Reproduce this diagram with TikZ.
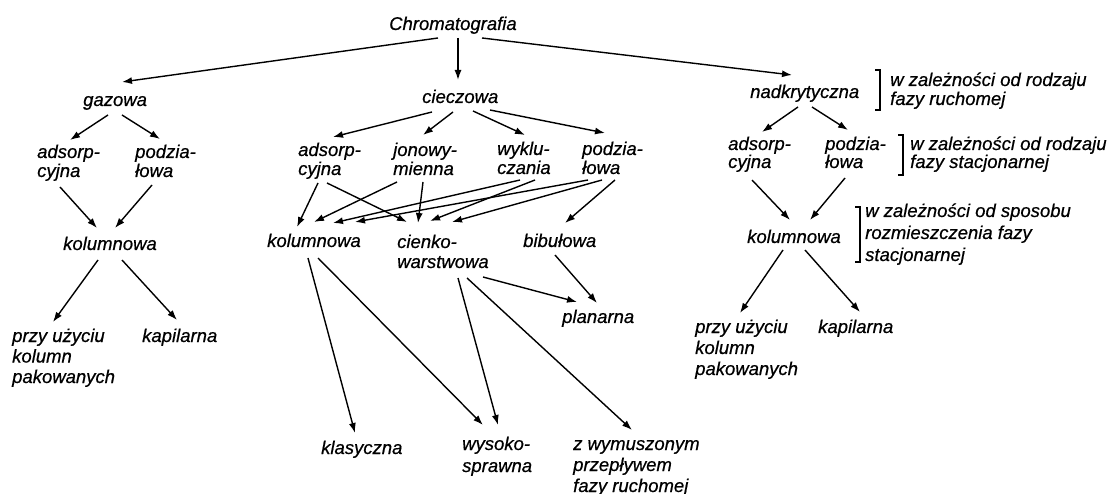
\documentclass[tikz,border=0pt]{standalone}
\usepackage{fontspec}
\setmainfont{Liberation Sans}[ItalicFeatures={FakeBold=0.6}]
\usetikzlibrary{arrows.meta,calc}
\tikzset{
    lbl/.style={inner sep=0pt, anchor=base west, align=left, font=\itshape\fontsize{18.5}{#1}\selectfont},
    lbl/.default=20,
    arr/.style={-{Latex[length=10pt,width=7pt]}, line width=1.4pt},
    brk/.style={line width=1.3pt}
}

\begin{document}
\begin{tikzpicture}[x=1pt,y=-1pt]
    \useasboundingbox (0,0) rectangle (1114,494);
    \node[lbl] (chrom) at (389,30) {Chromatografia};
    \node[lbl] (gaz) at (83,106) {gazowa};
    \node[lbl] (ciecz) at (422,103) {cieczowa};
    \node[lbl] (nadkr) at (750,98) {nadkrytyczna};
    % gazowa (multi-line nodes sit on their last line)
    \node[lbl=19] (gadsorp) at (37,177) {adsorp-\\cyjna};
    \node[lbl=19] (gpodz) at (135,177) {podzia-\\łowa};
    \node[lbl] (gkol) at (63,250) {kolumnowa};
    \node[lbl=20.5] (gpak) at (12,383) {przy użyciu\\kolumn\\pakowanych};
    \node[lbl] (gkap) at (142,342) {kapilarna};
    % cieczowa
    \node[lbl=19] (madsorp) at (298,175) {adsorp-\\cyjna};
    \node[lbl=19] (mjon) at (393,175) {jonowy-\\mienna};
    \node[lbl=19] (mwykl) at (497,174) {wyklu-\\czania};
    \node[lbl=19] (mpodz) at (582,174) {podzia-\\łowa};
    \node[lbl] (mkol) at (267,247) {kolumnowa};
    \node[lbl] (mcienko) at (397,268) {cienko-\\warstwowa};
    \node[lbl] (mbib) at (523,247) {bibułowa};
    \node[lbl] (mplan) at (562,323) {planarna};
    \node[lbl] (mklas) at (321,454) {klasyczna};
    \node[lbl=22] (mwys) at (462,472) {wysoko-\\sprawna};
    \node[lbl=21] (mwym) at (573,492) {z wymuszonym\\przepływem\\fazy ruchomej};
    % nadkrytyczna
    \node[lbl=18] (radsorp) at (728,168) {adsorp-\\cyjna};
    \node[lbl=18] (rpodz) at (825,168) {podzia-\\łowa};
    \node[lbl] (rkol) at (747,243) {kolumnowa};
    \node[lbl=21] (rpak) at (695,375) {przy użyciu\\kolumn\\pakowanych};
    \node[lbl] (rkap) at (818,333) {kapilarna};
    \node[lbl=19] (note1) at (890,105) {w zależności od rodzaju\\fazy ruchomej};
    \node[lbl=18] (note2) at (910,168) {w zależności od rodzaju\\fazy stacjonarnej};
    \node[lbl=22] (note3) at (865,261) {w zależności od sposobu\\rozmieszczenia fazy\\stacjonarnej};
    \draw[brk] ($(note1.base west)+(-15,-35)$) -- ++(5,0) -- ++(0,40) -- ++(-5,0);
    \draw[brk] ($(note2.base west)+(-12,-33)$) -- ++(5,0) -- ++(0,40) -- ++(-5,0);
    \draw[brk] ($(note3.base west)+(-10,-54)$) -- ++(5,0) -- ++(0,55) -- ++(-5,0);
    % arrows
    \draw[arr] ($(chrom.base west)+(49,8)$) -- ($(gaz.base west)+(39,-24)$);
    \draw[arr] ($(chrom.base west)+(69,8)$) -- ($(ciecz.base west)+(36,-23)$);
    \draw[arr] ($(chrom.base west)+(93,8)$) -- ($(nadkr.base west)+(42,-23)$);
    \draw[arr] ($(ciecz.base west)+(10,9)$) -- ($(madsorp.base west)+(35,-38)$);
    \draw[arr] ($(ciecz.base west)+(31,9)$) -- ($(mjon.base west)+(30,-40)$);
    \draw[arr] ($(ciecz.base west)+(51,8)$) -- ($(mwykl.base west)+(28,-39)$);
    \draw[arr] ($(ciecz.base west)+(68,7)$) -- ($(mpodz.base west)+(23,-41)$);
    \draw[arr] ($(gaz.base west)+(25,9)$) -- ($(gadsorp.base west)+(33,-37)$);
    \draw[arr] ($(gaz.base west)+(39,9)$) -- ($(gpodz.base west)+(25,-38)$);
    \draw[arr] ($(gadsorp.base west)+(23,10)$) -- ($(gkol.base west)+(34,-22)$);
    \draw[arr] ($(gpodz.base west)+(17,8)$) -- ($(gkol.base west)+(52,-22)$);
    \draw[arr] ($(gkol.base west)+(35,10)$) -- ($(gpak.base west)+(41,-61)$);
    \draw[arr] ($(gkol.base west)+(59,10)$) -- ($(gkap.base west)+(35,-22)$);
    \draw[arr] ($(madsorp.base west)+(20,8)$) -- ($(mkol.base west)+(30,-20)$);
    \draw[arr] ($(madsorp.base west)+(29,8)$) -- ($(mcienko.base west)+(10,-46)$);
    \draw[arr] ($(mjon.base west)+(4,7)$) -- ($(mkol.base west)+(47,-25)$);
    \draw[arr] ($(mjon.base west)+(30,7)$) -- ($(mcienko.base west)+(21,-45)$);
    \draw[arr] ($(mwykl.base west)+(23,6)$) -- ($(mkol.base west)+(66,-24)$);
    \draw[arr] ($(mwykl.base west)+(38,6)$) -- ($(mcienko.base west)+(33,-47)$);
    \draw[arr] ($(mpodz.base west)+(6,6)$) -- ($(mkol.base west)+(88,-25)$);
    \draw[arr] ($(mpodz.base west)+(20,6)$) -- ($(mcienko.base west)+(55,-46)$);
    \draw[arr] ($(mpodz.base west)+(33,6)$) -- ($(mbib.base west)+(42,-24)$);
    \draw[arr] ($(mcienko.base west)+(86,9)$) -- ($(mplan.base west)+(15,-21)$);
    \draw[arr] ($(mbib.base west)+(32,8)$) -- ($(mplan.base west)+(35,-20)$);
    \draw[arr] ($(mcienko.base west)+(61,10)$) -- ($(mwys.base west)+(36,-47)$);
    \draw[arr] ($(mcienko.base west)+(70,10)$) -- ($(mwym.base west)+(59,-62)$);
    \draw[arr] ($(mkol.base west)+(41,11)$) -- ($(mklas.base west)+(34,-21)$);
    \draw[arr] ($(mkol.base west)+(51,11)$) -- ($(mwys.base west)+(21,-47)$);
    \draw[arr] ($(nadkr.base west)+(48,9)$) -- ($(radsorp.base west)+(34,-36)$);
    \draw[arr] ($(nadkr.base west)+(62,9)$) -- ($(rpodz.base west)+(23,-38)$);
    \draw[arr] ($(radsorp.base west)+(24,12)$) -- ($(rkol.base west)+(43,-23)$);
    \draw[arr] ($(rpodz.base west)+(20,10)$) -- ($(rkol.base west)+(63,-23)$);
    \draw[arr] ($(rkol.base west)+(36,7)$) -- ($(rpak.base west)+(45,-62)$);
    \draw[arr] ($(rkol.base west)+(58,7)$) -- ($(rkap.base west)+(42,-21)$);
\end{tikzpicture}
\end{document}
